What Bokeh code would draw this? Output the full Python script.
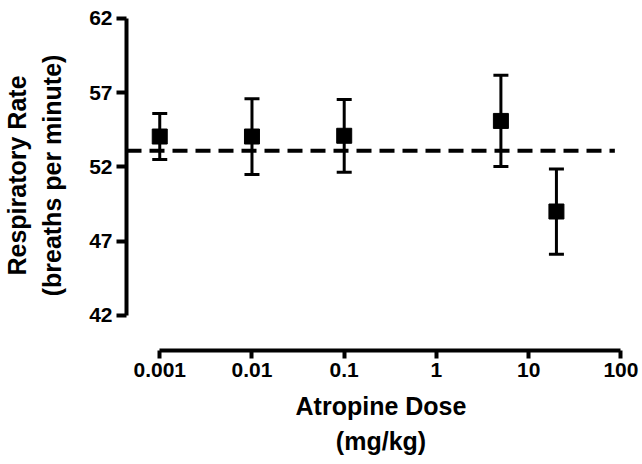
from bokeh.plotting import figure
from bokeh.models import (ColumnDataSource, Whisker, TeeHead, LogAxis, LinearAxis,
                          FixedTicker, Range1d, LogScale)
from bokeh.embed import file_html
from bokeh.resources import INLINE

# ---- data ----
doses = [0.001, 0.01, 0.1, 5, 20]             # mg/kg
rate_mean = [54.05, 54.05, 54.1, 55.1, 49.0]   # breaths per minute
rate_err = [1.55, 2.55, 2.45, 3.07, 2.87]
baseline_rate = 53.1
x_ticks = [0.001, 0.01, 0.1, 1, 10, 100]
x_tick_labels = ["0.001", "0.01", "0.1", "1", "10", "100"]
y_ticks = [42, 47, 52, 57, 62]

upper = [m + e for m, e in zip(rate_mean, rate_err)]
lower = [m - e for m, e in zip(rate_mean, rate_err)]
src = ColumnDataSource(dict(x=doses, y=rate_mean, upper=upper, lower=lower))

FONT = "Liberation Sans"

p = figure(width=642, height=464, x_axis_type=None, y_axis_location=None,
           x_range=Range1d(4.36e-4, 144), y_range=Range1d(39.64, 63.21),
           output_backend="svg", toolbar_location=None,
           min_border_left=125, min_border_right=7, min_border_top=0,
           min_border_bottom=114)
p.x_scale = LogScale()
p.outline_line_color = None
p.xgrid.visible = False
p.ygrid.visible = False
p.background_fill_color = "white"
p.border_fill_color = "white"

xaxis = LogAxis(ticker=FixedTicker(ticks=x_ticks), bounds=(x_ticks[0], x_ticks[-1]),
                axis_label="Atropine Dose\n(mg/kg)")
xaxis.major_label_overrides = {t: l for t, l in zip(x_ticks, x_tick_labels)}
yaxis = LinearAxis(ticker=FixedTicker(ticks=y_ticks), bounds=(y_ticks[0], y_ticks[-1]),
                   axis_label="Respiratory Rate\n(breaths per minute)")

for ax in (xaxis, yaxis):
    ax.axis_line_width = 4
    ax.axis_line_color = "black"
    ax.major_tick_line_width = 4
    ax.major_tick_line_color = "black"
    ax.minor_tick_line_color = None
    ax.major_tick_in = 0
    ax.major_label_text_font = FONT
    ax.major_label_text_font_style = "bold"
    ax.major_label_text_font_size = "21px"
    ax.major_label_text_color = "black"
    ax.axis_label_text_font = FONT
    ax.axis_label_text_font_style = "bold"
    ax.axis_label_text_font_size = "25px"
    ax.axis_label_text_line_height = 1.25
    ax.axis_label_text_color = "black"

xaxis.major_tick_out = 8
xaxis.major_label_standoff = 4
xaxis.axis_label_standoff = 12
yaxis.major_tick_out = 10
yaxis.major_label_standoff = 4
yaxis.axis_label_standoff = 20

p.add_layout(xaxis, "below")
p.add_layout(yaxis, "left")

# baseline dashed line
p.line(x=[4.36e-4, 86], y=[baseline_rate, baseline_rate], line_color="black",
       line_width=4, line_dash="15 8")

# error bars
w = Whisker(source=src, base="x", upper="upper", lower="lower", dimension="height",
            line_color="black", line_width=3,
            upper_head=TeeHead(size=15, line_width=3, line_color="black"),
            lower_head=TeeHead(size=15, line_width=3, line_color="black"))
p.add_layout(w)

p.scatter(x="x", y="y", source=src, marker="square", size=15,
          fill_color="black", line_color="black")

open("out.html", "w").write(file_html(p, INLINE))
